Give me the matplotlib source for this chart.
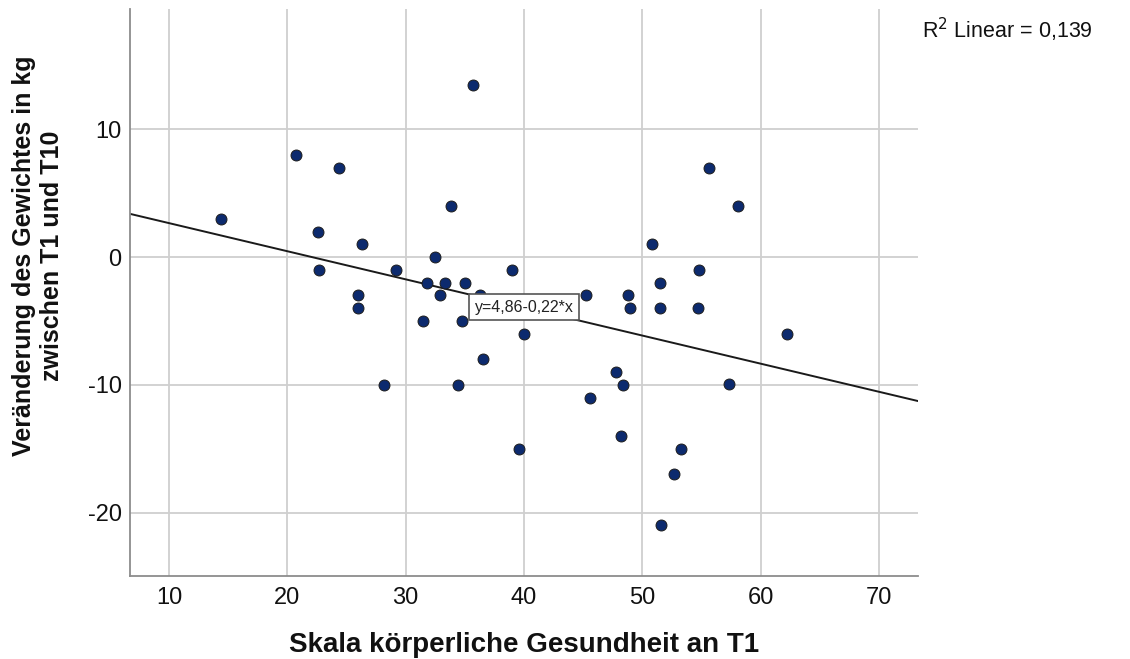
import matplotlib
matplotlib.use("Agg")
import matplotlib.pyplot as plt
import numpy as np

plt.rcParams['font.family'] = ['Liberation Sans', 'DejaVu Sans']
plt.rcParams['axes.unicode_minus'] = False

# Scale score at T1 and weight change (kg) between T1 and T10
koerper_t1 = [14.4, 20.7, 24.4, 22.6, 22.7, 26.3, 26.0, 26.0, 29.2, 28.2,
              35.7, 33.8, 32.5, 39.0, 31.8, 33.3, 35.0, 32.9, 36.3, 31.5,
              34.8, 40.0, 36.5, 34.4, 39.6, 55.6, 58.1, 50.8, 54.8, 51.5,
              45.2, 48.8, 49.0, 51.5, 54.7, 62.2, 47.8, 48.4, 57.3, 45.6,
              48.2, 53.3, 52.7, 51.6]
gewicht_diff = [3, 8, 7, 2, -1, 1, -3, -4, -1, -10,
                13.5, 4, 0, -1, -2, -2, -2, -3, -3, -5,
                -5, -6, -8, -10, -15, 7, 4, 1, -1, -2,
                -3, -3, -4, -4, -4, -6, -9, -10, -9.9, -11,
                -14, -15, -17, -21]

# Linear fit as reported
intercept = 4.86
slope = -0.22
r_squared = 0.139

x_ticks = [10, 20, 30, 40, 50, 60, 70]
y_ticks = [-20, -10, 0, 10]

fig = plt.figure(figsize=(11.30, 6.59), dpi=100)
ax = fig.add_axes([130 / 1130, 1 - 576 / 659, (918 - 130) / 1130, (576 - 9) / 659])

xlim = (6.70, 73.30)
ylim = (-24.96, 19.42)
ax.set_xlim(*xlim)
ax.set_ylim(*ylim)
ax.set_xticks(x_ticks)
ax.set_yticks(y_ticks)

ax.grid(True, color='#cfcfcf', linewidth=1.3)
ax.set_axisbelow(True)
for side in ('top', 'right'):
    ax.spines[side].set_visible(False)
for side in ('left', 'bottom'):
    ax.spines[side].set_color('#8c8c8c')
    ax.spines[side].set_linewidth(1.3)

ax.tick_params(axis='both', length=0, labelsize=17, colors='#111111')
ax.tick_params(axis='x', pad=8)
ax.tick_params(axis='y', pad=6)

# regression line across the whole x range
xs = np.array(xlim)
ax.plot(xs, intercept + slope * xs, color='#1a1a1a', linewidth=1.4, zorder=2,
        clip_on=True)

ax.scatter(koerper_t1, gewicht_diff, s=62, facecolor='#0c2a6e',
           edgecolor='#1c1c1c', linewidth=0.7, zorder=3)

eq_label = "y=" + f"{intercept:.2f}".replace('.', ',') + "-" + \
    f"{abs(slope):.2f}".replace('.', ',') + "*x"
ax.text(40.0, -3.93, eq_label, ha='center', va='center', fontsize=11.5,
        color='#222222', zorder=5,
        bbox=dict(boxstyle='square,pad=0.35', facecolor='white',
                  edgecolor='#555555', linewidth=1.2))

fig.text(922 / 1130, 1 - 30 / 659,
         "R$^2$ Linear = " + f"{r_squared:.3f}".replace('.', ','),
         ha='left', va='center', fontsize=15.5, color='#111111')

fig.text(38 / 1130, 1 - 256 / 659,
         "Veränderung des Gewichtes in kg\nzwischen T1 und T10",
         rotation=90, ha='center', va='center', multialignment='center',
         fontsize=18, fontweight='bold', color='#111111', linespacing=1.22)

fig.text(524 / 1130, 1 - 645 / 659, "Skala körperliche Gesundheit an T1",
         ha='center', va='center', fontsize=20, fontweight='bold',
         color='#111111')

fig.savefig("out.png", dpi=100)
